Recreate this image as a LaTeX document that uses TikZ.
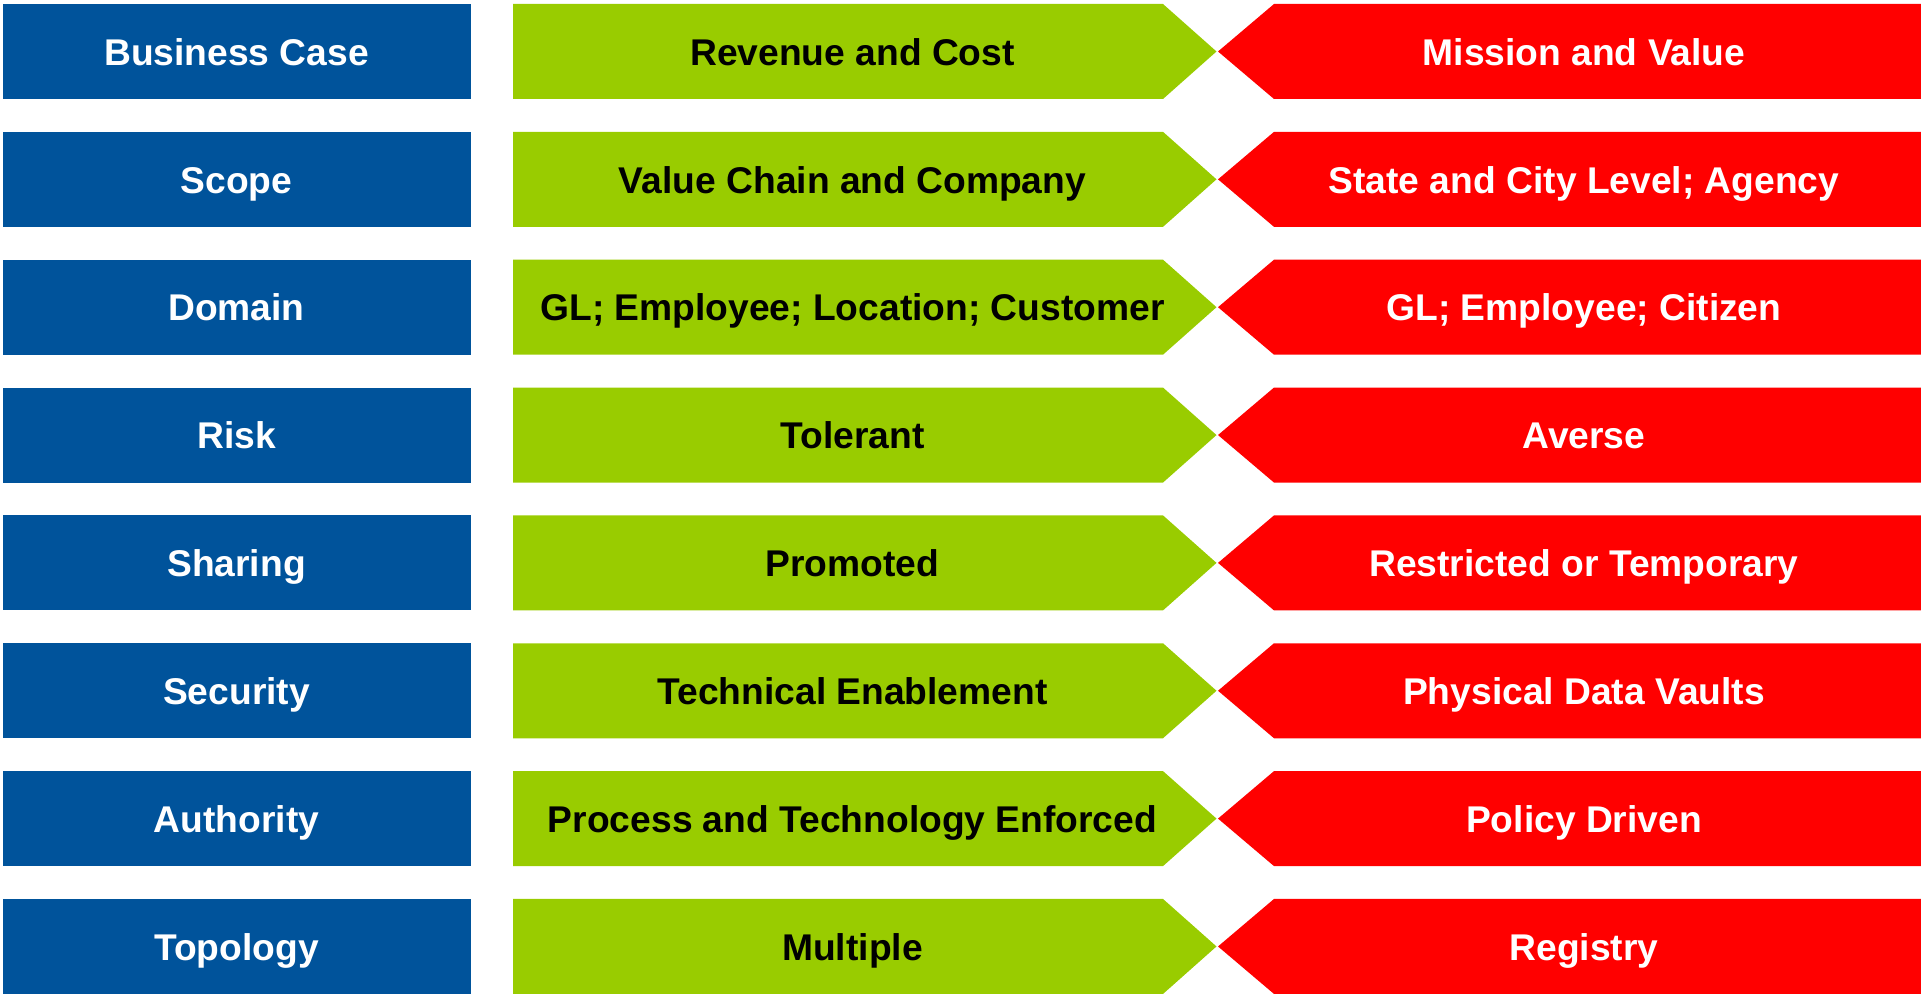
\documentclass[tikz,border=0pt]{standalone}
\usepackage{fontspec}
\setmainfont{Liberation Sans}
\definecolor{cblue}{RGB}{0,83,155}
\definecolor{cgreen}{RGB}{153,204,0}
\definecolor{cred}{RGB}{255,0,0}
\begin{document}
\begin{tikzpicture}[x=0.75pt,y=-0.75pt,
  lbl/.style={font=\fontsize{27.9}{33}\selectfont\bfseries, inner sep=0pt, anchor=base},
  bluebox/.style={fill=cblue},
  greenbox/.style={fill=cgreen},
  redbox/.style={fill=cred}]
\useasboundingbox (0,0) rectangle (1921,994);
\foreach \i/\a/\b/\c in {
  0/{Business Case}/{Revenue and Cost}/{Mission and Value},
  1/{Scope}/{Value Chain and Company}/{State and City Level; Agency},
  2/{Domain}/{GL; Employee; Location; Customer}/{GL; Employee; Citizen},
  3/{Risk}/{Tolerant}/{Averse},
  4/{Sharing}/{Promoted}/{Restricted or Temporary},
  5/{Security}/{Technical Enablement}/{Physical Data Vaults},
  6/{Authority}/{Process and Technology Enforced}/{Policy Driven},
  7/{Topology}/{Multiple}/{Registry}}{
  \pgfmathsetmacro\t{4+127.85*\i}
  \pgfmathsetmacro\m{\t+47.5}
  \pgfmathsetmacro\bt{\t+95}
  \pgfmathsetmacro\bl{\m+13.8}
  \fill[bluebox] (2.5,\t) rectangle (470.5,\bt);
  \fill[greenbox] (513,\t) -- (1163,\t) -- (1216.5,\m) -- (1163,\bt) -- (513,\bt) -- cycle;
  \fill[redbox] (1921,\t) -- (1274,\t) -- (1218,\m) -- (1274,\bt) -- (1921,\bt) -- cycle;
  \node[lbl,text=white] (k\i) at (236.5,\bl) {\a};
  \node[lbl,text=black] (g\i) at (852.5,\bl) {\b};
  \node[lbl,text=white] (r\i) at (1584,\bl) {\c};
}
\end{tikzpicture}
\end{document}
